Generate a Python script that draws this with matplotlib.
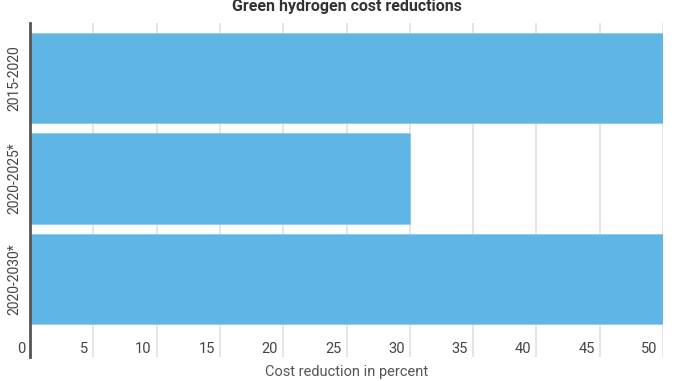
import matplotlib.pyplot as plt
from matplotlib.transforms import blended_transform_factory, offset_copy

plt.rcParams['font.family'] = ['Roboto', 'DejaVu Sans']

# Dados
periodos = ['2015-2020', '2020-2025*', '2020-2030*']
reducao = [50, 30, 50]
ticks_x = [0, 5, 10, 15, 20, 25, 30, 35, 40, 45, 50]

cor_barra = '#5fb6e5'
cor_texto = '#444444'

fig = plt.figure(figsize=(6.78, 3.81), dpi=100)
W, H = 678, 381
ax = fig.add_axes([30 / W, 1 - 357 / H, (663 - 30) / W, (357 - 23) / H])

ax.barh(range(len(periodos)), reducao, height=0.9, color=cor_barra,
        edgecolor='#8ccbee', linewidth=0.6, zorder=2)
ax.set_xlim(0, 50)
ax.set_ylim(2.776, -0.547)

# grade vertical
for t in ticks_x[1:]:
    ax.axvline(t, color='#e0e0e0', linewidth=1.2, zorder=1)

for s in ['top', 'right', 'bottom']:
    ax.spines[s].set_visible(False)
ax.spines['left'].set_color('#555555')
ax.spines['left'].set_linewidth(2)

ax.set_yticks(range(len(periodos)))
ax.set_yticklabels(periodos, rotation=90, va='center', fontsize=10, color=cor_texto)
ax.tick_params(axis='y', length=0, pad=6)
ax.set_xticks([])

# rótulos do eixo x dentro da área, à esquerda das linhas da grade
trans = blended_transform_factory(ax.transData, ax.transAxes)
for t in ticks_x:
    dx = -6 if t == 50 else -5
    ax.text(t, 4 / 334, str(t), transform=offset_copy(trans, fig=fig, x=dx, units='dots'),
            ha='right', va='baseline', fontsize=10.5, color=cor_texto)

fig.text(347 / W, 1 - 6 / H, 'Green hydrogen cost reductions', ha='center', va='center',
         fontsize=11.5, fontweight='bold', color='#333333')
fig.text(347 / W, 1 - 372 / H, 'Cost reduction in percent', ha='center', va='center',
         fontsize=10.5, color='#555555')

fig.savefig('out.png', dpi=100)
